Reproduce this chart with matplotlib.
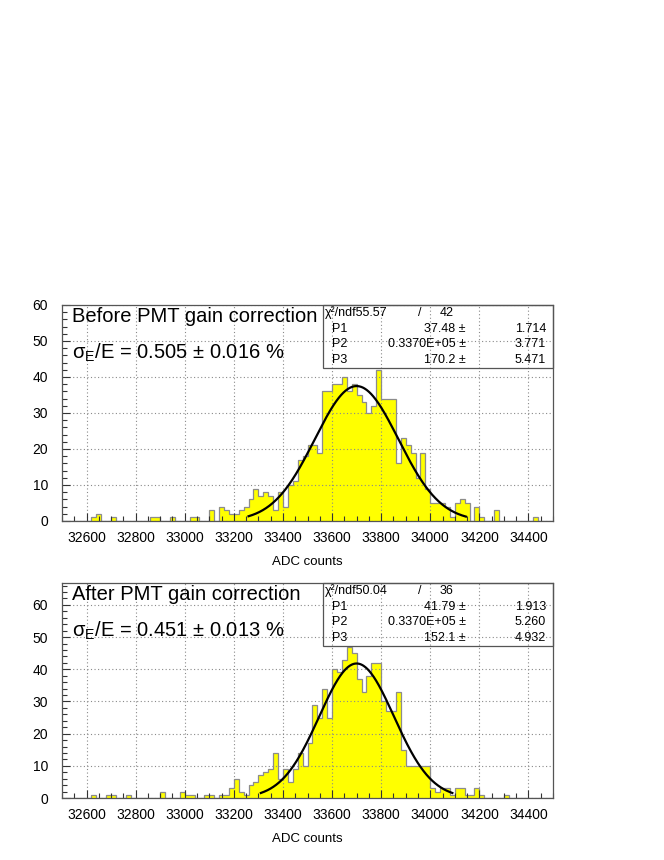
import numpy as np
import matplotlib
matplotlib.use("Agg")
import matplotlib.pyplot as plt
from matplotlib.ticker import MultipleLocator
from matplotlib.patches import Rectangle

plt.rcParams['font.family'] = ['Liberation Sans', 'DejaVu Sans']
plt.rcParams['mathtext.fontset'] = 'custom'
plt.rcParams['mathtext.rm'] = 'Liberation Sans'
plt.rcParams['mathtext.it'] = 'Liberation Sans:italic'

# ---------------- data ----------------
bin_lo = 32500
bin_hi = 34500
bin_width = 20

# top panel (before correction): lower bin edge -> counts (non-empty bins)
top_edges = [32620, 32640, 32700, 32860, 32880, 32940, 33020, 33040,
             33100, 33140, 33160, 33180, 33200, 33220, 33240, 33260, 33280,
             33300, 33320, 33340, 33360, 33380, 33400, 33420, 33440, 33460,
             33480, 33500, 33520, 33540, 33560, 33580, 33600, 33620, 33640,
             33660, 33680, 33700, 33720, 33740, 33760, 33780, 33800, 33820,
             33840, 33860, 33880, 33900, 33920, 33940, 33960, 33980, 34000,
             34020, 34040, 34060, 34080, 34100, 34120, 34140, 34180, 34200,
             34260, 34420]
top_counts = [1, 2, 1, 1, 1, 1, 1, 1,
              3, 4, 3, 2, 2, 3, 4, 6, 9,
              7, 8, 7, 3, 8, 4, 10, 11, 17,
              18, 21, 21, 19, 36, 36, 38, 38, 40,
              36, 38, 35, 33, 30, 32, 42, 34, 34,
              34, 16, 23, 21, 19, 12, 19, 9, 5,
              5, 5, 4, 1, 5, 6, 5, 4, 1,
              3, 1]

# bottom panel (after correction)
bot_edges = [32620, 32680, 32700, 32760, 32900, 32980, 33000, 33020,
             33080, 33100, 33140, 33160, 33180, 33200, 33220, 33240, 33260,
             33280, 33300, 33320, 33340, 33360, 33380, 33400, 33420, 33440,
             33460, 33480, 33500, 33520, 33540, 33560, 33580, 33600, 33620,
             33640, 33660, 33680, 33700, 33720, 33740, 33760, 33780, 33800,
             33820, 33840, 33860, 33880, 33900, 33920, 33940, 33960, 33980,
             34000, 34020, 34040, 34060, 34080, 34100, 34120, 34140, 34160,
             34180, 34200, 34300]
bot_counts = [1, 1, 1, 1, 2, 2, 1, 1,
              1, 1, 1, 1, 3, 6, 2, 1, 4,
              5, 7, 8, 9, 14, 6, 9, 5, 9,
              14, 10, 17, 29, 25, 34, 25, 40, 39,
              43, 47, 45, 37, 33, 38, 42, 42, 30,
              27, 27, 33, 15, 10, 10, 10, 10, 10,
              3, 2, 3, 3, 1, 3, 3, 1, 1,
              3, 1, 1]

# fit results shown in the stat boxes
top_fit = dict(chi2="55.57", ndf="42",
               p=[("P1", "37.48", "1.714"), ("P2", "0.3370E+05", "3.771"), ("P3", "170.2", "5.471")],
               vals=[37.48, 33700.0, 170.2], rng=[33260, 34145])
bot_fit = dict(chi2="50.04", ndf="36",
               p=[("P1", "41.79", "1.913"), ("P2", "0.3370E+05", "5.260"), ("P3", "152.1", "4.932")],
               vals=[41.79, 33700.0, 152.1], rng=[33310, 34090])

top_title = "Before PMT gain correction"
top_res = "σ$_{\\mathrm{E}}$/E = 0.505 ± 0.016 %"
bot_title = "After PMT gain correction"
bot_res = "σ$_{\\mathrm{E}}$/E = 0.451 ± 0.013 %"
xlabel = "ADC counts"

# ---------------- figure ----------------
fig = plt.figure(figsize=(6.64, 8.6), dpi=100)
W, H = 664.0, 860.0
ax1 = fig.add_axes([62 / W, (H - 521) / H, 491 / W, 216 / H])
ax2 = fig.add_axes([62 / W, (H - 798) / H, 491 / W, 215 / H])

edges = np.arange(bin_lo, bin_hi + bin_width, bin_width)


def draw_panel(ax, e_list, c_list, fit, title, res, ymax, h_px):
    counts = np.zeros(len(edges) - 1)
    idx = ((np.array(e_list) - bin_lo) // bin_width).astype(int)
    counts[idx] = c_list
    ax.stairs(counts, edges, fill=True, facecolor='#ffff00', edgecolor='none', zorder=1)
    ax.stairs(counts, edges, fill=False, color='#8c8c8c', lw=0.9, zorder=1.5)

    A, mu, sg = fit['vals']
    xf = np.linspace(fit['rng'][0], fit['rng'][1], 400)
    ax.plot(xf, A * np.exp(-0.5 * ((xf - mu) / sg) ** 2), color='black', lw=1.6, zorder=4)

    ax.set_xlim(bin_lo, bin_hi)
    ax.set_ylim(0, ymax)
    ax.xaxis.set_major_locator(MultipleLocator(200))
    ax.xaxis.set_minor_locator(MultipleLocator(50))
    ax.yaxis.set_major_locator(MultipleLocator(10))
    ax.yaxis.set_minor_locator(MultipleLocator(2))
    ax.set_xticks(np.arange(32600, 34401, 200))
    ax.tick_params(axis='both', which='both', direction='in', top=False, right=False,
                   color='#333333', labelsize=10)
    ax.tick_params(axis='both', which='major', length=6, width=0.8)
    ax.tick_params(axis='both', which='minor', length=3.5, width=0.8)
    ax.tick_params(axis='x', which='major', pad=7)
    ax.tick_params(axis='y', which='major', pad=10)
    ax.set_axisbelow(False)
    ax.grid(True, which='major', linestyle=(0, (1, 2.2)), color='#8a8a8a', lw=0.8)
    for s in ax.spines.values():
        s.set_color('#555555')
        s.set_linewidth(0.9)
        s.set_zorder(5)

    ax.text((72 - 62) / 491, 1 - 12 / h_px, title, transform=ax.transAxes,
            fontsize=14.5, ha='left', va='center', zorder=6)
    ax.text((72 - 62) / 491, 1 - 48 / h_px, res, transform=ax.transAxes,
            fontsize=14.5, ha='left', va='center', zorder=6)

    # stat box
    bx0 = (323 - 62) / 491
    by0 = 1 - 63 / h_px
    ax.add_patch(Rectangle((bx0, by0), 1 - bx0, 1 - by0, transform=ax.transAxes,
                           fill=False, edgecolor='#555555', lw=0.9, zorder=6, clip_on=False))
    rows = [1 - 8 / h_px, 1 - 24 / h_px, 1 - 39 / h_px, 1 - 55 / h_px]
    fs = 9
    ax.text(0.536, rows[0], "χ²/ndf" + fit['chi2'], transform=ax.transAxes,
            fontsize=fs, ha='left', va='center', zorder=6)
    ax.text(0.729, rows[0], "/", transform=ax.transAxes,
            fontsize=fs, ha='center', va='center', zorder=6)
    ax.text(0.798, rows[0], fit['ndf'], transform=ax.transAxes,
            fontsize=fs, ha='right', va='center', zorder=6)
    for (name, val, err), yy in zip(fit['p'], rows[1:]):
        ax.text(0.549, yy, name, transform=ax.transAxes,
                fontsize=fs, ha='left', va='center', zorder=6)
        ax.text(0.822, yy, val + " ±", transform=ax.transAxes,
                fontsize=fs, ha='right', va='center', zorder=6)
        ax.text(0.986, yy, err, transform=ax.transAxes,
                fontsize=fs, ha='right', va='center', zorder=6)

    ax.text(0.5, -41 / h_px, xlabel, transform=ax.transAxes,
            fontsize=9.5, ha='center', va='center')


draw_panel(ax1, top_edges, top_counts, top_fit, top_title, top_res, 60, 216)
draw_panel(ax2, bot_edges, bot_counts, bot_fit, bot_title, bot_res, 66.8, 215)

fig.savefig("out.png", dpi=100, facecolor='white')
